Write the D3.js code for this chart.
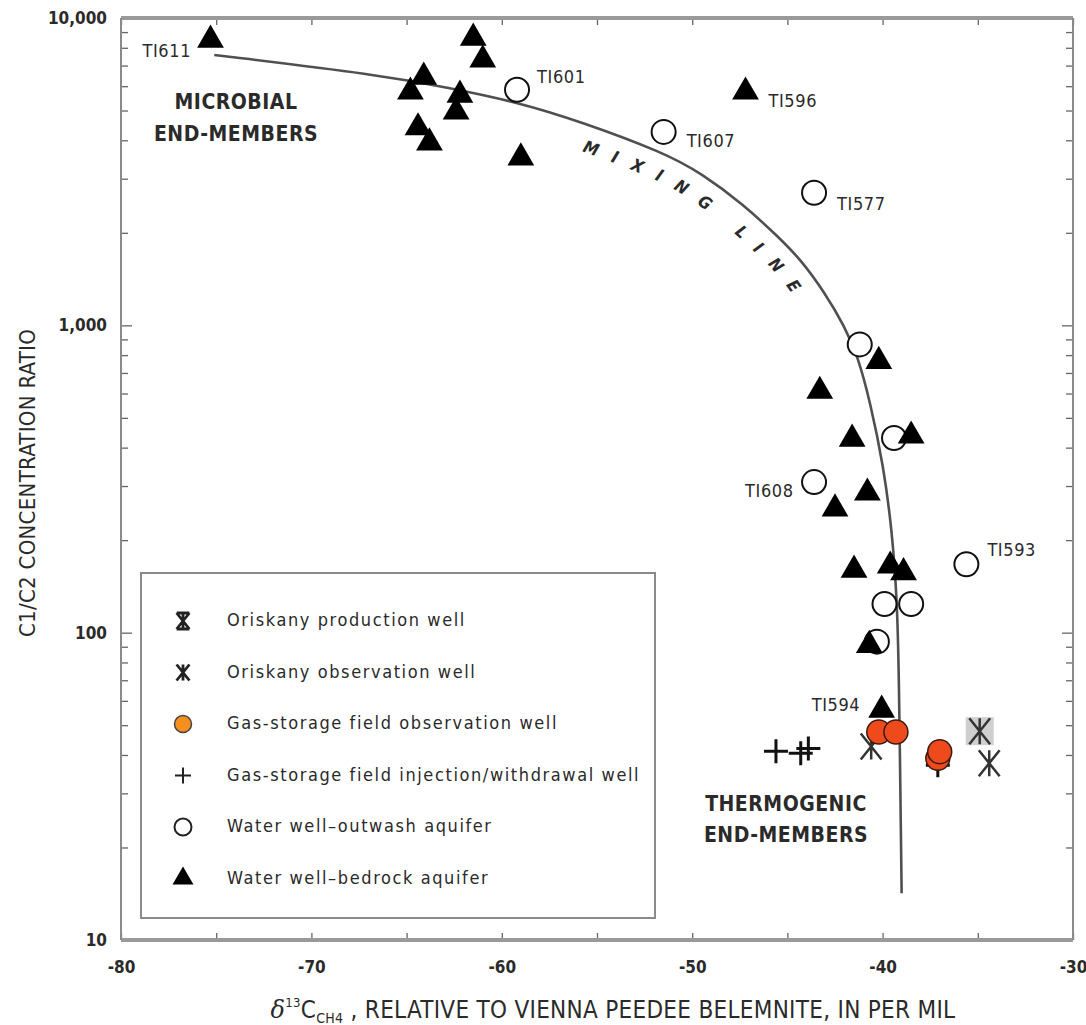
<!DOCTYPE html>
<html>
<head>
<meta charset="utf-8">
<script src="https://cdn.jsdelivr.net/npm/d3@7"></script>
<style>
  body { margin: 0; background: #fff; }
  svg { display: block; }
  text { font-family: "Liberation Sans Narrow", "Arial Narrow", "DejaVu Sans Condensed", sans-serif; fill: #2a2a2a; }
</style>
</head>
<body>
<svg id="chart" width="1086" height="1025"></svg>
<script>

// ---- data (delta13C in per mil, C1/C2 ratio) ----
var bedrockX = [-75.3, -61.5, -61.0, -64.1, -64.8, -62.2, -62.4, -64.4, -63.8, -59.0, -47.2,
                -40.2, -43.3, -41.6, -38.5, -40.8, -42.5, -41.5, -39.6, -38.9, -40.7, -40.05];
var bedrockY = [8480, 8610, 7310, 6430, 5750, 5620, 4950, 4400, 3930, 3510, 5750,
                764, 611, 427, 437, 285, 253, 160, 165, 157, 91, 56];

var outwashX = [-59.2, -51.5, -43.6, -41.2, -39.4, -43.6, -35.6, -39.9, -38.5, -40.3];
var outwashY = [5840, 4260, 2700, 867, 430, 309, 167, 124, 124, 93.5];

var gasObsX = [-40.2, -39.3, -37.1, -37.0];
var gasObsY = [47.5, 47.5, 39, 41];

var gasInjX = [-45.6, -44.3, -43.9, -37.1];
var gasInjY = [41.1, 40.5, 42.0, 37];

var oriskProdX = [-34.9, -34.4];
var oriskProdY = [47.8, 37.6];

var oriskObsX = [-40.6];
var oriskObsY = [42.6];

var mixingX = [-75.1, -66.4, -62.8, -59.2, -55.8, -51.5, -49.5, -47.3, -45.5, -44.3, -43.05, -42.0,
               -41.3, -40.65, -39.95, -39.5, -39.25, -39.15, -39.0];
var mixingY = [7580, 6530, 5930, 5330, 4590, 3650, 3120, 2470, 1946, 1637, 1280, 993,
               793, 562, 348, 213, 129, 82, 14.2];

// well names and the point they belong to
var wellNames  = ["TI611", "TI601", "TI596", "TI607", "TI577", "TI608", "TI593", "TI594"];
var wellSeries = ["bedrock", "outwash", "bedrock", "outwash", "outwash", "outwash", "outwash", "bedrock"];
var wellIndex  = [0, 0, 10, 1, 2, 5, 6, 21];

var legendLabels = ["Oriskany production well", "Oriskany observation well", "Gas-storage field observation well",
                    "Gas-storage field injection/withdrawal well", "Water well\u2013outwash aquifer", "Water well\u2013bedrock aquifer"];

var xTicks = d3.range(-80, -29, 5);
var yMajor = [10, 100, 1000, 10000];

// ---- layout ----
var svg = d3.select("#chart");
var plotL = 121, plotR = 1073, plotT = 18, plotB = 940;

var x = d3.scaleLinear().domain([-80, -30]).range([plotL, plotR]);
var y = d3.scaleLog().domain([10, 10000]).range([plotB, plotT]);

var yTicks = [];
yMajor.slice(0, 3).forEach(function (p) { for (var k = 1; k < 10; k++) yTicks.push(p * k); });
yTicks.push(10000);
function isMajor(v) { return yMajor.indexOf(v) >= 0; }

// axes (ticks pointing inward)
svg.append("g").attr("transform", "translate(0," + plotB + ")")
  .call(d3.axisBottom(x).tickValues(xTicks).tickSize(-7).tickPadding(21)
        .tickFormat(function (d) { return d % 10 === 0 ? String(d) : ""; }));
svg.append("g").attr("transform", "translate(0," + plotT + ")")
  .call(d3.axisTop(x).tickValues(xTicks).tickSize(-7).tickFormat(""));

var gy = svg.append("g").attr("transform", "translate(" + plotL + ",0)")
  .call(d3.axisLeft(y).tickValues(yTicks).tickSize(0).tickPadding(14)
        .tickFormat(function (d) { return isMajor(d) ? d3.format(",")(d) : ""; }));
gy.selectAll(".tick line").attr("x2", function (d) { return isMajor(d) ? 11 : 7; });

var gyr = svg.append("g").attr("transform", "translate(" + plotR + ",0)")
  .call(d3.axisRight(y).tickValues(yTicks).tickSize(0).tickFormat(""));
gyr.selectAll(".tick line").attr("x2", function (d) { return isMajor(d) ? -11 : -7; });

svg.selectAll(".domain").remove();
svg.selectAll(".tick line").attr("stroke", "#666").attr("stroke-width", 1.3);
svg.selectAll(".tick text").style("font-size", "17px").style("font-weight", "bold").attr("fill", "#2a2a2a")
  .style("font-family", '"Liberation Sans Narrow", "DejaVu Sans Condensed", sans-serif');

// frame
svg.append("line").attr("x1", plotL).attr("x2", plotR).attr("y1", plotT).attr("y2", plotT)
  .attr("stroke", "#9a9a9a").attr("stroke-width", 4);
svg.append("line").attr("x1", plotL).attr("x2", plotR).attr("y1", plotB).attr("y2", plotB)
  .attr("stroke", "#9a9a9a").attr("stroke-width", 4);
svg.append("line").attr("x1", plotL).attr("x2", plotL).attr("y1", plotT).attr("y2", plotB)
  .attr("stroke", "#8a8a8a").attr("stroke-width", 2);
svg.append("line").attr("x1", plotR).attr("x2", plotR).attr("y1", plotT).attr("y2", plotB)
  .attr("stroke", "#8a8a8a").attr("stroke-width", 2);

// axis titles
svg.append("text")
  .attr("transform", "translate(29," + ((plotT + plotB) / 2 + 4) + ") rotate(-90)")
  .attr("text-anchor", "middle").attr("dominant-baseline", "middle")
  .style("font-size", "22px").style("letter-spacing", "0.3px")
  .text("C1/C2 CONCENTRATION RATIO");

var xt = svg.append("text").attr("x", 613).attr("y", 1018).attr("text-anchor", "middle")
  .style("font-size", "24px").style("letter-spacing", "0.3px");
xt.append("tspan").style("font-family", '"DejaVu Serif", serif').style("font-style", "italic").text("\u03b4");
xt.append("tspan").attr("dy", -11).style("font-size", "13px").text("13");
xt.append("tspan").attr("dy", 11).text("C");
xt.append("tspan").attr("dy", 5).style("font-size", "14px").text("CH4");
xt.append("tspan").attr("dy", -5).text(" , RELATIVE TO VIENNA PEEDEE BELEMNITE, IN PER MIL");

// ---- mixing line ----
var line = d3.line().x(function (d) { return x(d[0]); }).y(function (d) { return y(d[1]); })
  .curve(d3.curveBasis);
var mixPath = svg.append("path").datum(d3.zip(mixingX, mixingY))
  .attr("d", line).attr("fill", "none").attr("stroke", "#505050").attr("stroke-width", 2.6);

// parallel path on the inner side of the curve for the "MIXING LINE" lettering
var node = mixPath.node(), total = node.getTotalLength(), offPts = [];
for (var s = 0; s <= total; s += 3) {
  var a = node.getPointAtLength(Math.max(0, s - 6)), b = node.getPointAtLength(Math.min(total, s + 6));
  var p = node.getPointAtLength(s), tx = b.x - a.x, ty = b.y - a.y, n = Math.hypot(tx, ty) || 1;
  offPts.push([p.x - ty / n * 27, p.y + tx / n * 27]);
}
var startAt = 0;
for (var i = 1; i < offPts.length && offPts[i][0] < 584; i++) {
  startAt += Math.hypot(offPts[i][0] - offPts[i - 1][0], offPts[i][1] - offPts[i - 1][1]);
}
svg.append("path").attr("id", "mix-offset").attr("d", d3.line().curve(d3.curveBasis)(offPts)).attr("fill", "none");
svg.append("text").style("font-size", "17px").style("font-weight", "bold").style("font-style", "italic")
  .style("letter-spacing", "15px")
  .append("textPath").attr("href", "#mix-offset").attr("startOffset", startAt).text("MIXING LINE");

// ---- symbols ----
function asterisk(sz, bars) {
  var h = sz / 2, w = sz * 0.4;
  var d = "M" + (-w) + "," + (-h) + "L" + w + "," + h + "M" + (-w) + "," + h + "L" + w + "," + (-h) +
          "M0," + (-h) + "L0," + h;
  if (bars) d += "M" + (-w) + "," + (-h) + "L" + w + "," + (-h) + "M" + (-w) + "," + h + "L" + w + "," + h;
  return d;
}
function plus(sz) { var h = sz / 2; return "M" + (-h) + ",0L" + h + ",0M0," + (-h) + "L0," + h; }
var tri = d3.symbol(d3.symbolTriangle, 310)();
var triSmall = d3.symbol(d3.symbolTriangle, 190)();

var plot = svg.append("g");

// highlight box behind one production well
plot.append("rect").attr("x", x(oriskProdX[0]) - 14).attr("y", y(oriskProdY[0]) - 14)
  .attr("width", 28).attr("height", 28).attr("fill", "#cfcfcf");

plot.selectAll(".outwash").data(d3.zip(outwashX, outwashY)).enter().append("circle")
  .attr("cx", function (d) { return x(d[0]); }).attr("cy", function (d) { return y(d[1]); })
  .attr("r", 12).attr("fill", "#fff").attr("stroke", "#111").attr("stroke-width", 2);

plot.selectAll(".bedrock").data(d3.zip(bedrockX, bedrockY)).enter().append("path")
  .attr("d", tri).attr("fill", "#000")
  .attr("transform", function (d) { return "translate(" + x(d[0]) + "," + y(d[1]) + ")"; });

plot.selectAll(".inj").data(d3.zip(gasInjX, gasInjY)).enter().append("path")
  .attr("d", plus(24)).attr("stroke", "#111").attr("stroke-width", 3).attr("fill", "none")
  .attr("transform", function (d) { return "translate(" + x(d[0]) + "," + y(d[1]) + ")"; });

plot.selectAll(".obs").data(d3.zip(oriskObsX, oriskObsY)).enter().append("path")
  .attr("d", asterisk(26, false)).attr("stroke", "#333").attr("stroke-width", 2.5).attr("fill", "none")
  .attr("transform", function (d) { return "translate(" + x(d[0]) + "," + y(d[1]) + ")"; });

plot.selectAll(".prod").data(d3.zip(oriskProdX, oriskProdY)).enter().append("path")
  .attr("d", asterisk(26, false)).attr("stroke", "#333").attr("stroke-width", 2.5).attr("fill", "none")
  .attr("transform", function (d) { return "translate(" + x(d[0]) + "," + y(d[1]) + ")"; });

plot.selectAll(".gasobs").data(d3.zip(gasObsX, gasObsY)).enter().append("circle")
  .attr("cx", function (d) { return x(d[0]); }).attr("cy", function (d) { return y(d[1]); })
  .attr("r", 12).attr("fill", "#ee4a1c").attr("stroke", "#3a1a10").attr("stroke-width", 1.5);

// well labels
var seriesXY = { bedrock: [bedrockX, bedrockY], outwash: [outwashX, outwashY] };
var labelOffset = { TI611: [-68, 12], TI601: [20, -12], TI596: [23, 10], TI607: [23, 10],
                    TI577: [23, 12], TI608: [-69, 10], TI593: [21, -13], TI594: [-70, -4] };
wellNames.forEach(function (name, i) {
  var src = seriesXY[wellSeries[i]], px = x(src[0][wellIndex[i]]), py = y(src[1][wellIndex[i]]);
  svg.append("text").attr("x", px + labelOffset[name][0]).attr("y", py + labelOffset[name][1])
    .attr("dominant-baseline", "middle").style("font-size", "18px").style("letter-spacing", "0.6px")
    .text(name);
});

// end-member notes
[["MICROBIAL", 236, 103], ["END-MEMBERS", 236, 135], ["THERMOGENIC", 786, 805], ["END-MEMBERS", 786, 836]]
  .forEach(function (t) {
    svg.append("text").attr("x", t[1]).attr("y", t[2]).attr("text-anchor", "middle")
      .attr("dominant-baseline", "middle").style("font-size", "21px").style("font-weight", "bold")
      .style("letter-spacing", "0.5px").text(t[0]);
  });

// ---- legend ----
var lg = svg.append("g");
lg.append("rect").attr("x", 141).attr("y", 573).attr("width", 514).attr("height", 345)
  .attr("fill", "#fff").attr("stroke", "#8a8a8a").attr("stroke-width", 2);

var legendDraw = [
  function (g) { g.append("path").attr("d", asterisk(16, true)).attr("stroke", "#222").attr("stroke-width", 2.8).attr("fill", "none"); },
  function (g) { g.append("path").attr("d", asterisk(16, false)).attr("stroke", "#222").attr("stroke-width", 2.8).attr("fill", "none"); },
  function (g) { g.append("circle").attr("r", 8.5).attr("fill", "#f5901e").attr("stroke", "#444").attr("stroke-width", 1.5); },
  function (g) { g.append("path").attr("d", plus(16)).attr("stroke", "#222").attr("stroke-width", 2).attr("fill", "none"); },
  function (g) { g.append("circle").attr("r", 8.5).attr("fill", "#fff").attr("stroke", "#222").attr("stroke-width", 2); },
  function (g) { g.append("path").attr("d", triSmall).attr("fill", "#000"); }
];
legendLabels.forEach(function (lab, i) {
  var row = lg.append("g").attr("transform", "translate(0," + (621 + i * 51.5) + ")");
  legendDraw[i](row.append("g").attr("transform", "translate(183,0)"));
  row.append("text").attr("x", 227).attr("dominant-baseline", "middle")
    .style("font-size", "18px").style("letter-spacing", "1.6px").text(lab);
});

</script>
</body>
</html>
